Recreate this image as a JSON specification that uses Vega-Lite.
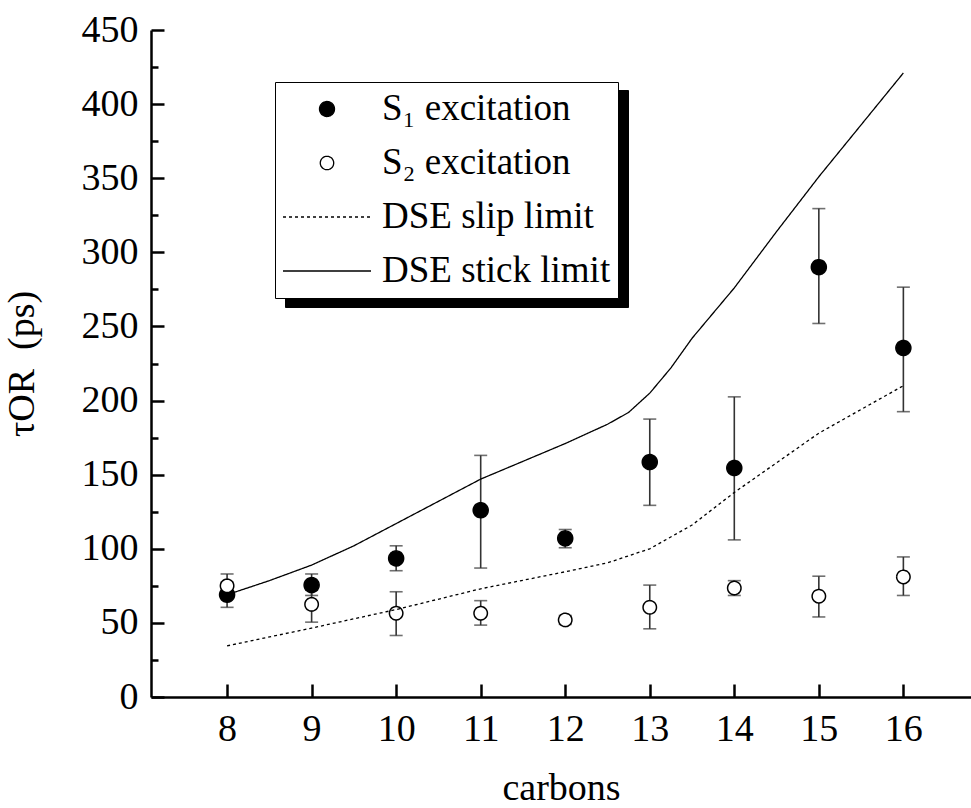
{
  "$schema": "https://vega.github.io/schema/vega-lite/v6.json",
  "width": 820,
  "height": 667,
  "autosize": {"type": "none"},
  "padding": {"left": 151, "top": 30, "right": 0, "bottom": 111},
  "background": "white",
  "config": {
    "view": {"stroke": null},
    "font": "Liberation Serif",
    "axis": {
      "labelFont": "Liberation Serif", "titleFont": "Liberation Serif",
      "labelFontSize": 38, "titleFontSize": 38, "labelColor": "black", "titleColor": "black",
      "titleFontWeight": "normal", "domainColor": "black", "tickColor": "black",
      "domainWidth": 2.5, "tickWidth": 2.5, "grid": false
    },
    "legend": {
      "labelFont": "Liberation Serif", "labelFontSize": 37, "labelColor": "black"
    }
  },
  "datasets": {
    "pts": [
      {"carbons": 8, "series": "S₁ excitation", "tau": 69, "lo": 60.5, "hi": 77.5},
      {"carbons": 9, "series": "S₁ excitation", "tau": 75.5, "lo": 68.5, "hi": 83},
      {"carbons": 10, "series": "S₁ excitation", "tau": 93.5, "lo": 85.2, "hi": 102},
      {"carbons": 11, "series": "S₁ excitation", "tau": 126, "lo": 87, "hi": 163},
      {"carbons": 12, "series": "S₁ excitation", "tau": 107, "lo": 100.7, "hi": 113},
      {"carbons": 13, "series": "S₁ excitation", "tau": 158.5, "lo": 129.3, "hi": 187.5},
      {"carbons": 14, "series": "S₁ excitation", "tau": 154.5, "lo": 106, "hi": 202.5},
      {"carbons": 15, "series": "S₁ excitation", "tau": 290, "lo": 252, "hi": 329.5},
      {"carbons": 16, "series": "S₁ excitation", "tau": 235.5, "lo": 192.5, "hi": 276.5},
      {"carbons": 8, "series": "S₂ excitation", "tau": 75, "lo": 67, "hi": 83},
      {"carbons": 9, "series": "S₂ excitation", "tau": 62.5, "lo": 50.5, "hi": 72},
      {"carbons": 10, "series": "S₂ excitation", "tau": 56.5, "lo": 41.5, "hi": 71},
      {"carbons": 11, "series": "S₂ excitation", "tau": 56.5, "lo": 48.5, "hi": 65},
      {"carbons": 12, "series": "S₂ excitation", "tau": 52, "lo": 49, "hi": 55},
      {"carbons": 13, "series": "S₂ excitation", "tau": 60.5, "lo": 46, "hi": 75.5},
      {"carbons": 14, "series": "S₂ excitation", "tau": 73.5, "lo": 68.5, "hi": 78.5},
      {"carbons": 15, "series": "S₂ excitation", "tau": 68, "lo": 54, "hi": 81.5},
      {"carbons": 16, "series": "S₂ excitation", "tau": 81, "lo": 68.5, "hi": 94.5}
    ],
    "lines": [
      {"carbons": 8, "series": "DSE stick limit", "tau": 69},
      {"carbons": 8.5, "series": "DSE stick limit", "tau": 78.5},
      {"carbons": 9, "series": "DSE stick limit", "tau": 89},
      {"carbons": 9.5, "series": "DSE stick limit", "tau": 102},
      {"carbons": 10, "series": "DSE stick limit", "tau": 117},
      {"carbons": 10.5, "series": "DSE stick limit", "tau": 132},
      {"carbons": 11, "series": "DSE stick limit", "tau": 147},
      {"carbons": 11.5, "series": "DSE stick limit", "tau": 159},
      {"carbons": 12, "series": "DSE stick limit", "tau": 171},
      {"carbons": 12.5, "series": "DSE stick limit", "tau": 184},
      {"carbons": 12.75, "series": "DSE stick limit", "tau": 192},
      {"carbons": 13, "series": "DSE stick limit", "tau": 205},
      {"carbons": 13.25, "series": "DSE stick limit", "tau": 222},
      {"carbons": 13.5, "series": "DSE stick limit", "tau": 242},
      {"carbons": 14, "series": "DSE stick limit", "tau": 276},
      {"carbons": 14.5, "series": "DSE stick limit", "tau": 314},
      {"carbons": 15, "series": "DSE stick limit", "tau": 351},
      {"carbons": 15.5, "series": "DSE stick limit", "tau": 386},
      {"carbons": 16, "series": "DSE stick limit", "tau": 421},
      {"carbons": 8, "series": "DSE slip limit", "tau": 34.5},
      {"carbons": 9, "series": "DSE slip limit", "tau": 46.5},
      {"carbons": 10, "series": "DSE slip limit", "tau": 59},
      {"carbons": 11, "series": "DSE slip limit", "tau": 73},
      {"carbons": 12, "series": "DSE slip limit", "tau": 84.5},
      {"carbons": 12.5, "series": "DSE slip limit", "tau": 90.5},
      {"carbons": 13, "series": "DSE slip limit", "tau": 100},
      {"carbons": 13.5, "series": "DSE slip limit", "tau": 116},
      {"carbons": 14, "series": "DSE slip limit", "tau": 138},
      {"carbons": 14.5, "series": "DSE slip limit", "tau": 158},
      {"carbons": 15, "series": "DSE slip limit", "tau": 178},
      {"carbons": 15.5, "series": "DSE slip limit", "tau": 194},
      {"carbons": 16, "series": "DSE slip limit", "tau": 210}
    ]
  },
  "encoding": {
    "x": {
      "field": "carbons", "type": "quantitative",
      "scale": {"domain": [7.1, 16.8], "nice": false, "zero": false},
      "axis": {"title": "carbons", "values": [8, 9, 10, 11, 12, 13, 14, 15, 16], "tickSize": -13, "labelPadding": 26, "titlePadding": 21, "labelFlush": false,
        "labelFont": "Liberation Serif", "titleFont": "Liberation Serif"}
    },
    "y": {
      "field": "tau", "type": "quantitative",
      "scale": {"domain": [0, 450], "nice": false},
      "axis": {
        "title": "τOR\u00a0\u00a0(ps)",
        "values": [0, 25, 50, 75, 100, 125, 150, 175, 200, 225, 250, 275, 300, 325, 350, 375, 400, 425, 450],
        "tickSize": {"condition": {"test": "datum.value % 50 === 0", "value": -13}, "value": -7},
        "labelExpr": "datum.value % 50 === 0 ? datum.label : ''",
        "labelPadding": 26, "titlePadding": 40, "labelFlush": false,
        "labelFont": "Liberation Serif", "titleFont": "Liberation Serif"
      }
    }
  },
  "layer": [
    {
      "data": {"name": "pts"},
      "mark": {"type": "point", "filled": true, "size": 0},
      "encoding": {
        "opacity": {
          "field": "series", "type": "nominal",
          "scale": {"domain": ["S₂ excitation", "S₁ excitation", "DSE slip limit", "DSE stick limit"], "range": [0, 0, 0, 0]},
          "legend": {
            "orient": "none", "legendX": 134, "legendY": 60, "title": null,
            "fillColor": "black", "strokeColor": "black", "labelColor": "black",
            "padding": 7, "symbolType": "stroke", "symbolSize": 7744, "symbolStrokeWidth": 1.3, "labelOffset": 10, "rowPadding": 7, "labelLimit": 0
          }
        }
      }
    },
    {
      "data": {"name": "pts"},
      "mark": {"type": "rule", "color": "#333", "strokeWidth": 1.6},
      "encoding": {"y": {"field": "lo", "type": "quantitative"}, "y2": {"field": "hi"}}
    },
    {
      "data": {"name": "pts"},
      "mark": {"type": "tick", "orient": "horizontal", "color": "#333", "size": 13, "thickness": 1.6},
      "encoding": {"y": {"field": "lo", "type": "quantitative"}}
    },
    {
      "data": {"name": "pts"},
      "mark": {"type": "tick", "orient": "horizontal", "color": "#333", "size": 13, "thickness": 1.6},
      "encoding": {"y": {"field": "hi", "type": "quantitative"}}
    },
    {
      "data": {"name": "pts"},
      "mark": {"type": "point", "filled": true, "strokeWidth": 1.5, "opacity": 1, "fillOpacity": 1},
      "encoding": {
        "fill": {
          "field": "series", "type": "nominal",
          "scale": {"domain": ["S₁ excitation", "S₂ excitation", "DSE slip limit", "DSE stick limit"], "range": ["black", "white", "white", "white"]},
          "legend": {
            "orient": "none", "legendX": 124, "legendY": 52, "title": null,
            "fillColor": "white", "strokeColor": "black", "labelColor": "black",
            "padding": 7, "labelOffset": 10, "rowPadding": 14, "labelLimit": 0, "symbolSize": 7744, "clipHeight": 40,
            "symbolStrokeColor": "black", "symbolStrokeWidth": 1.3
          }
        },
        "stroke": {
          "field": "series", "type": "nominal",
          "scale": {"domain": ["S₁ excitation", "S₂ excitation", "DSE slip limit", "DSE stick limit"], "range": ["black", "black", "black", "black"]},
          "legend": {
            "orient": "none", "legendX": 124, "legendY": 52, "title": null,
            "fillColor": "white", "strokeColor": "black", "labelColor": "black",
            "padding": 7, "labelOffset": 10, "rowPadding": 14, "labelLimit": 0, "symbolSize": 7744, "clipHeight": 40,
            "symbolStrokeColor": "black", "symbolStrokeWidth": 1.3
          }
        },
        "shape": {
          "field": "series", "type": "nominal",
          "scale": {"domain": ["S₁ excitation", "S₂ excitation", "DSE slip limit", "DSE stick limit"], "range": ["circle", "circle", "stroke", "stroke"]},
          "legend": {
            "orient": "none", "legendX": 124, "legendY": 52, "title": null,
            "fillColor": "white", "strokeColor": "black", "labelColor": "black",
            "padding": 7, "labelOffset": 10, "rowPadding": 14, "labelLimit": 0, "symbolSize": 7744, "clipHeight": 40,
            "symbolStrokeColor": "black", "symbolStrokeWidth": 1.3
          }
        },
        "size": {
          "field": "series", "type": "nominal",
          "scale": {"type": "ordinal", "domain": ["S₁ excitation", "S₂ excitation", "DSE slip limit", "DSE stick limit"], "range": [225, 180, 7744, 7744]},
          "legend": {
            "orient": "none", "legendX": 124, "legendY": 52, "title": null,
            "fillColor": "white", "strokeColor": "black", "labelColor": "black",
            "padding": 7, "labelOffset": 10, "rowPadding": 14, "labelLimit": 0, "symbolSize": 7744, "clipHeight": 40,
            "symbolStrokeColor": "black", "symbolStrokeWidth": 1.3
          }
        },
        "strokeDash": {
          "field": "series", "type": "nominal",
          "scale": {"domain": ["S₁ excitation", "S₂ excitation", "DSE slip limit", "DSE stick limit"], "range": [[1, 0], [1, 0], [3, 3], [1, 0]]},
          "legend": {
            "orient": "none", "legendX": 124, "legendY": 52, "title": null,
            "fillColor": "white", "strokeColor": "black", "labelColor": "black",
            "padding": 7, "labelOffset": 10, "rowPadding": 14, "labelLimit": 0, "symbolSize": 7744, "clipHeight": 40,
            "symbolStrokeColor": "black", "symbolStrokeWidth": 1.3
          }
        }
      }
    },
    {
      "data": {"name": "lines"},
      "mark": {"type": "line", "color": "black", "strokeWidth": 1.3},
      "encoding": {
        "detail": {"field": "series"},
        "strokeDash": {
          "field": "series", "type": "nominal",
          "scale": {"domain": ["S₁ excitation", "S₂ excitation", "DSE slip limit", "DSE stick limit"], "range": [[1, 0], [1, 0], [3, 3], [1, 0]]}
        }
      }
    }
  ]
}
